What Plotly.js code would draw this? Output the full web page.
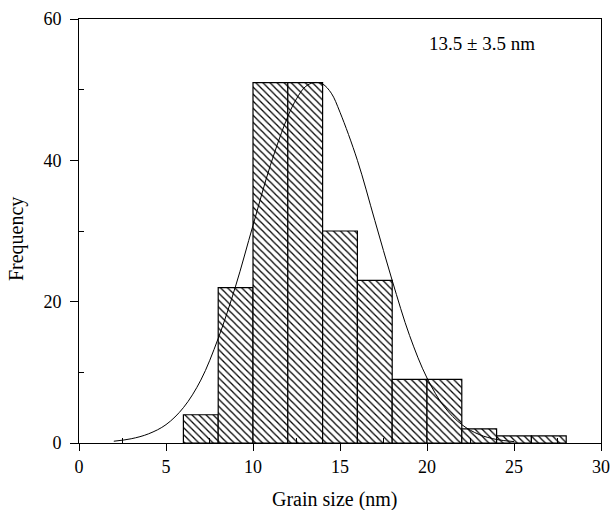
<!DOCTYPE html>
<html>
<head>
<meta charset="utf-8">
<script src="https://cdn.plot.ly/plotly-3.0.1.min.js"></script>
<style>html,body{margin:0;padding:0;background:#fff;}#chart{width:613px;height:510px;}</style>
</head>
<body>
<div id="chart"></div>
<script>
// Histogram bins (left edge, nm) and counts
const binStart = [6, 8, 10, 12, 14, 16, 18, 20, 22, 24, 26];
const binWidth = 2;
const counts = [4, 22, 51, 51, 30, 23, 9, 9, 2, 1, 1];

// Fitted distribution curve
const fitX = [2, 3, 4, 5, 6, 7, 8, 9, 10, 11, 12, 12.5, 13, 13.5, 14, 14.5, 15, 16, 17, 18, 19, 20, 21, 22, 23, 24, 25];
const fitY = [0.25, 0.6, 1.3, 2.6, 5.0, 8.9, 14.8, 22.2, 30.8, 39.3, 46.2, 48.7, 50.4, 51.0, 50.8, 49.5, 46.8, 40.0, 31.5, 23.0, 15.2, 9.2, 5.1, 2.6, 1.2, 0.5, 0.2];

const annotationText = '13.5 ± 3.5 nm';
const xTitle = 'Grain size (nm)';
const yTitle = 'Frequency';

const fam = '"Liberation Serif", "DejaVu Serif", serif';
const tickFont = {family: fam, size: 18, color: '#000'};
const titleFont = {family: fam, size: 20, color: '#000'};
const annFont = {family: fam, size: 19, color: '#000'};

const traces = [
  {
    type: 'bar',
    x: binStart,
    y: counts,
    width: binStart.map(() => binWidth),
    offset: 0,
    marker: {
      color: '#fff',
      line: {color: '#000', width: 1.2},
      pattern: {shape: '\\', size: 5, solidity: 0.25, fgcolor: '#000', bgcolor: '#fff', fillmode: 'replace'}
    },
    hoverinfo: 'x+y'
  },
  {
    type: 'scatter',
    mode: 'lines',
    x: fitX,
    y: fitY,
    line: {color: '#000', width: 1, shape: 'spline'},
    hoverinfo: 'x+y'
  }
];

const layout = {
  width: 613,
  height: 510,
  margin: {l: 79, r: 12, t: 19, b: 67},
  paper_bgcolor: '#fff',
  plot_bgcolor: '#fff',
  showlegend: false,
  bargap: 0,
  font: tickFont,
  xaxis: {
    range: [0, 30],
    tickvals: [0, 5, 10, 15, 20, 25, 30],
    ticks: 'outside',
    ticklen: 7,
    tickwidth: 1,
    tickcolor: '#000',
    minor: {tickvals: [2.5, 7.5, 12.5, 17.5, 22.5, 27.5], ticks: 'inside', ticklen: 5, tickwidth: 1, tickcolor: '#000'},
    showline: true,
    linecolor: '#000',
    linewidth: 1,
    mirror: true,
    showgrid: false,
    zeroline: false,
    tickfont: tickFont
  },
  yaxis: {
    range: [0, 60],
    tickvals: [0, 20, 40, 60],
    ticks: 'outside',
    ticklen: 8,
    tickwidth: 1,
    tickcolor: '#000',
    ticklabelstandoff: 5,
    minor: {tickvals: [10, 30, 50], ticks: 'inside', ticklen: 5, tickwidth: 1, tickcolor: '#000'},
    showline: true,
    linecolor: '#000',
    linewidth: 1,
    mirror: true,
    showgrid: false,
    zeroline: false,
    tickfont: tickFont
  },
  annotations: [
    {
      text: annotationText,
      x: 0.772, y: 0.943,
      xref: 'paper', yref: 'paper',
      xanchor: 'center', yanchor: 'middle',
      showarrow: false,
      font: annFont
    },
    {
      text: xTitle,
      x: 0.49, y: -0.134,
      xref: 'paper', yref: 'paper',
      xanchor: 'center', yanchor: 'middle',
      showarrow: false,
      font: titleFont
    },
    {
      text: yTitle,
      x: -0.1207, y: 0.481,
      xref: 'paper', yref: 'paper',
      xanchor: 'center', yanchor: 'middle',
      textangle: -90,
      showarrow: false,
      font: titleFont
    }
  ]
};

Plotly.newPlot('chart', traces, layout, {displayModeBar: false, staticPlot: true});
</script>
</body>
</html>
